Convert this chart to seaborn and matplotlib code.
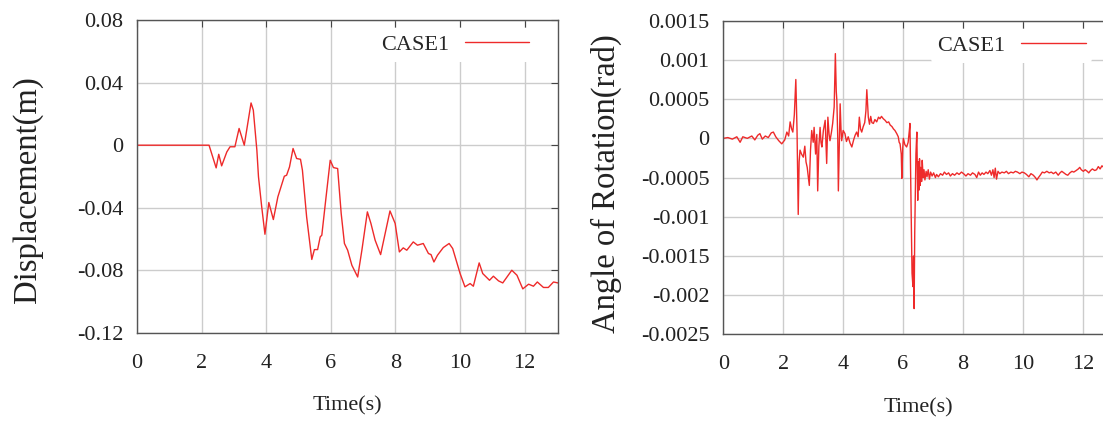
import matplotlib
matplotlib.use("Agg")
import numpy as np
import pandas as pd
import seaborn as sns
from matplotlib import pyplot as plt

# displacement (left panel)
disp_t = [0.00, 1.00, 2.00, 2.23, 2.45, 2.53, 2.62, 2.78, 2.88, 3.03, 3.16, 3.32,
          3.53, 3.60, 3.71, 3.76, 3.86, 3.96, 4.08, 4.22, 4.36, 4.56, 4.63, 4.72,
          4.83, 4.94, 5.06, 5.12, 5.25, 5.41, 5.49, 5.59, 5.67, 5.72, 5.84, 5.98,
          6.08, 6.21, 6.32, 6.42, 6.52, 6.65, 6.83, 6.96, 7.13, 7.24, 7.37, 7.54,
          7.83, 7.99, 8.12, 8.24, 8.35, 8.55, 8.68, 8.86, 9.02, 9.10, 9.19, 9.30,
          9.48, 9.66, 9.77, 10.00, 10.15, 10.31, 10.41, 10.59, 10.70, 10.91, 11.03,
          11.19, 11.32, 11.60, 11.76, 11.94, 12.12, 12.27, 12.39, 12.58, 12.73,
          12.89, 13.03]
disp_v = [0.0, 0.0, 0.0, 0.0, -0.0145, -0.0058, -0.0132, -0.0043, -0.001, -0.001,
          0.0107, 0.0, 0.027, 0.0224, -0.0032, -0.0202, -0.0394, -0.0569, -0.0366,
          -0.0475, -0.033, -0.0198, -0.0192, -0.0139, -0.0021, -0.0085, -0.009,
          -0.016, -0.0458, -0.073, -0.0667, -0.0667, -0.0586, -0.0575, -0.0352,
          -0.0096, -0.0143, -0.0149, -0.0437, -0.0628, -0.0671, -0.0767, -0.0842,
          -0.0671, -0.0426, -0.05, -0.0607, -0.0699, -0.042, -0.05, -0.0682, -0.0656,
          -0.0671, -0.0618, -0.0639, -0.0628, -0.0692, -0.0699, -0.0746, -0.0703,
          -0.0654, -0.0628, -0.066, -0.082, -0.0905, -0.0884, -0.0901, -0.0752,
          -0.082, -0.0863, -0.0837, -0.0867, -0.088, -0.0799, -0.0831, -0.0918,
          -0.0888, -0.0901, -0.0874, -0.0909, -0.0909, -0.0874, -0.088]

# angle of rotation (right panel)
rot_t = [0.00, 0.15, 0.30, 0.45, 0.56, 0.65, 0.80, 0.95, 1.05, 1.15, 1.22, 1.30,
         1.40, 1.50, 1.60, 1.67, 1.75, 1.85, 1.95, 2.05, 2.12, 2.18, 2.23, 2.28,
         2.32, 2.37, 2.42, 2.46, 2.50, 2.53, 2.56, 2.61, 2.67, 2.72, 2.76, 2.80,
         2.87, 2.91, 2.95, 3.00, 3.03, 3.08, 3.12, 3.15, 3.19, 3.23, 3.26, 3.29,
         3.34, 3.40, 3.45, 3.49, 3.53, 3.56, 3.61, 3.65, 3.70, 3.74, 3.77, 3.79,
         3.82, 3.84, 3.87, 3.90, 3.93, 3.95, 4.00, 4.06, 4.11, 4.17, 4.23, 4.29,
         4.35, 4.40, 4.45, 4.50, 4.54, 4.58, 4.62, 4.67, 4.72, 4.76, 4.79, 4.82,
         4.84, 4.88, 4.92, 4.96, 5.01, 5.06, 5.12, 5.18, 5.23, 5.28, 5.34, 5.40,
         5.46, 5.52, 5.57, 5.63, 5.68, 5.73, 5.79, 5.84, 5.87, 5.90, 5.94, 5.96,
         5.99, 6.01, 6.06, 6.12, 6.17, 6.21, 6.23, 6.25, 6.28, 6.30, 6.33, 6.35,
         6.37, 6.39, 6.41, 6.43, 6.46, 6.48, 6.49, 6.51, 6.53, 6.55, 6.57, 6.59,
         6.62, 6.64, 6.67, 6.70, 6.73, 6.77, 6.80, 6.84, 6.88, 6.92, 6.97, 7.02,
         7.08, 7.12, 7.18, 7.25, 7.32, 7.38, 7.45, 7.52, 7.58, 7.65, 7.72, 7.80,
         7.87, 7.95, 8.02, 8.10, 8.17, 8.25, 8.32, 8.40, 8.46, 8.52, 8.58, 8.64,
         8.70, 8.77, 8.83, 8.90, 8.95, 9.00, 9.04, 9.08, 9.12, 9.17, 9.23, 9.30,
         9.38, 9.45, 9.52, 9.60, 9.68, 9.75, 9.82, 9.90, 9.97, 10.05, 10.12, 10.20,
         10.27, 10.35, 10.42, 10.47, 10.52, 10.58, 10.65, 10.72, 10.80, 10.88,
         10.95, 11.02, 11.10, 11.18, 11.24, 11.30, 11.37, 11.44, 11.50, 11.57,
         11.64, 11.70, 11.78, 11.85, 11.90, 11.95, 12.02, 12.08, 12.15, 12.20,
         12.26, 12.32, 12.40, 12.46, 12.52, 12.58, 12.64, 12.70, 12.76]
rot_v = [0.00000, 0.00001, -0.00001, 0.00002, -0.00005, 0.00002, 0.00000, 0.00003,
         -0.00002, 0.00004, 0.00006, -0.00001, 0.00003, 0.00001, 0.00007, 0.00008,
         0.00002, -0.00003, -0.00007, -0.00002, 0.00008, 0.00003, 0.00021, 0.00012,
         0.00008, 0.00030, 0.00075, 0.00010, -0.00097, -0.00030, -0.00015, -0.00020,
         -0.00024, -0.00010, -0.00030, -0.00037, -0.00060, -0.00015, 0.00010, -0.00005,
         0.00014, -0.00020, 0.00005, -0.00067, -0.00010, 0.00014, -0.00005, -0.00011,
         0.00010, 0.00023, -0.00032, 0.00027, 0.00005, -0.00003, 0.00008, 0.00019,
         0.00040, 0.00108, 0.00060, 0.00048, 0.00000, -0.00067, -0.00010, 0.00044,
         0.00010, -0.00003, 0.00010, 0.00006, -0.00004, 0.00002, -0.00006, -0.00011,
         -0.00002, 0.00004, 0.00008, 0.00002, 0.00027, 0.00012, 0.00008, 0.00015,
         0.00020, 0.00035, 0.00062, 0.00040, 0.00027, 0.00018, 0.00028, 0.00020,
         0.00019, 0.00024, 0.00021, 0.00027, 0.00025, 0.00028, 0.00025, 0.00023,
         0.00020, 0.00021, 0.00017, 0.00015, 0.00012, 0.00010, 0.00006, 0.00002,
         -0.00005, -0.00007, -0.00020, -0.00051, -0.00012, 0.00000, -0.00008, -0.00011,
         -0.00005, 0.00010, 0.00019, -0.00040, -0.00120, -0.00172, -0.00189, -0.00150,
         -0.00217, -0.00120, -0.00070, -0.00020, 0.00008, -0.00050, -0.00079, -0.00030,
         -0.00066, -0.00026, -0.00060, -0.00037, -0.00055, -0.00028, -0.00050, -0.00040,
         -0.00053, -0.00042, -0.00049, -0.00040, -0.00052, -0.00043, -0.00048, -0.00044,
         -0.00050, -0.00046, -0.00049, -0.00045, -0.00047, -0.00043, -0.00046, -0.00044,
         -0.00048, -0.00045, -0.00047, -0.00044, -0.00046, -0.00043, -0.00045, -0.00048,
         -0.00045, -0.00047, -0.00044, -0.00046, -0.00050, -0.00043, -0.00047, -0.00044,
         -0.00046, -0.00043, -0.00045, -0.00041, -0.00047, -0.00040, -0.00050, -0.00038,
         -0.00052, -0.00042, -0.00045, -0.00043, -0.00044, -0.00042, -0.00045, -0.00043,
         -0.00044, -0.00042, -0.00043, -0.00045, -0.00043, -0.00044, -0.00046, -0.00049,
         -0.00045, -0.00047, -0.00050, -0.00053, -0.00050, -0.00047, -0.00043, -0.00044,
         -0.00042, -0.00044, -0.00043, -0.00045, -0.00043, -0.00047, -0.00044, -0.00042,
         -0.00044, -0.00046, -0.00047, -0.00044, -0.00042, -0.00043, -0.00041, -0.00039,
         -0.00037, -0.00040, -0.00042, -0.00040, -0.00042, -0.00044, -0.00041, -0.00039,
         -0.00041, -0.00040, -0.00036, -0.00039, -0.00035, -0.00037, -0.00034]

x_ticks = [0, 2, 4, 6, 8, 10, 12]
disp_ticks = [-0.12, -0.08, -0.04, 0, 0.04, 0.08]
disp_labels = ["-0.12", "-0.08", "-0.04", "0", "0.04", "0.08"]
rot_ticks = [-0.0025, -0.002, -0.0015, -0.001, -0.0005, 0, 0.0005, 0.001, 0.0015]
rot_labels = ["-0.0025", "-0.002", "-0.0015", "-0.001", "-0.0005", "0",
              "0.0005", "0.001", "0.0015"]
series_name = "CASE1"

sns.set_style("whitegrid")
plt.rcParams["font.family"] = ["Liberation Serif", "DejaVu Serif"]
plt.rcParams["axes.unicode_minus"] = False

red = "#ee2a2a"
fig = plt.figure(figsize=(11.03, 4.21), dpi=100)
ax1 = fig.add_axes([0.1242, 0.209, 0.3817, 0.7435])
ax2 = fig.add_axes([0.6558, 0.2055, 0.353, 0.7454])

# axis, x, y, yticks, ylabels, ylabel text, xmax, ylabel position, legend anchor
panels = [
    (ax1, disp_t, disp_v, disp_ticks, disp_labels, "Displacement(m)", 13.03,
     (-0.223, 0.458), (0.974, 1.01)),
    (ax2, rot_t, rot_v, rot_ticks, rot_labels, "Angle of Rotation(rad)", 13.0,
     (-0.261, 0.481), (0.976, 1.01)),
]

for ax, t, v, yt, yl, ylab, xmax, lab_xy, leg_xy in panels:
    df = pd.DataFrame({"t": t, "v": v, "case": series_name})
    sns.lineplot(data=df, x="t", y="v", hue="case", palette=[red],
                 estimator=None, sort=False, linewidth=1.0, ax=ax)
    ax.set_xlim(0, xmax)
    ax.set_ylim(yt[0], yt[-1])
    ax.set_xticks(x_ticks)
    ax.set_yticks(yt)
    ax.set_yticklabels(yl)
    ax.grid(True, color="#cccccc", linewidth=1.0)
    for s in ax.spines.values():
        s.set_color("#555555")
        s.set_linewidth(1.0)
    ax.tick_params(direction="in", top=True, right=True, length=5,
                   color="#444444", labelsize=16, labelcolor="#222222")
    ax.tick_params(axis="x", pad=15)
    ax.tick_params(axis="y", pad=10)
    ax.set_xlabel("Time(s)", fontsize=16, color="#222222", labelpad=17)
    ax.set_ylabel(ylab, fontsize=23.5, color="#222222")
    ax.yaxis.set_label_coords(*lab_xy)
    leg = ax.legend(loc="upper right", bbox_to_anchor=leg_xy,
                    markerfirst=False, handlelength=2.9, handletextpad=0.7,
                    fontsize=16, frameon=True, borderpad=0.3)
    leg.get_frame().set_facecolor("white")
    leg.get_frame().set_edgecolor("none")
    leg.get_frame().set_alpha(1.0)
    leg.set_title(None)

fig.savefig("out.png", dpi=100)
